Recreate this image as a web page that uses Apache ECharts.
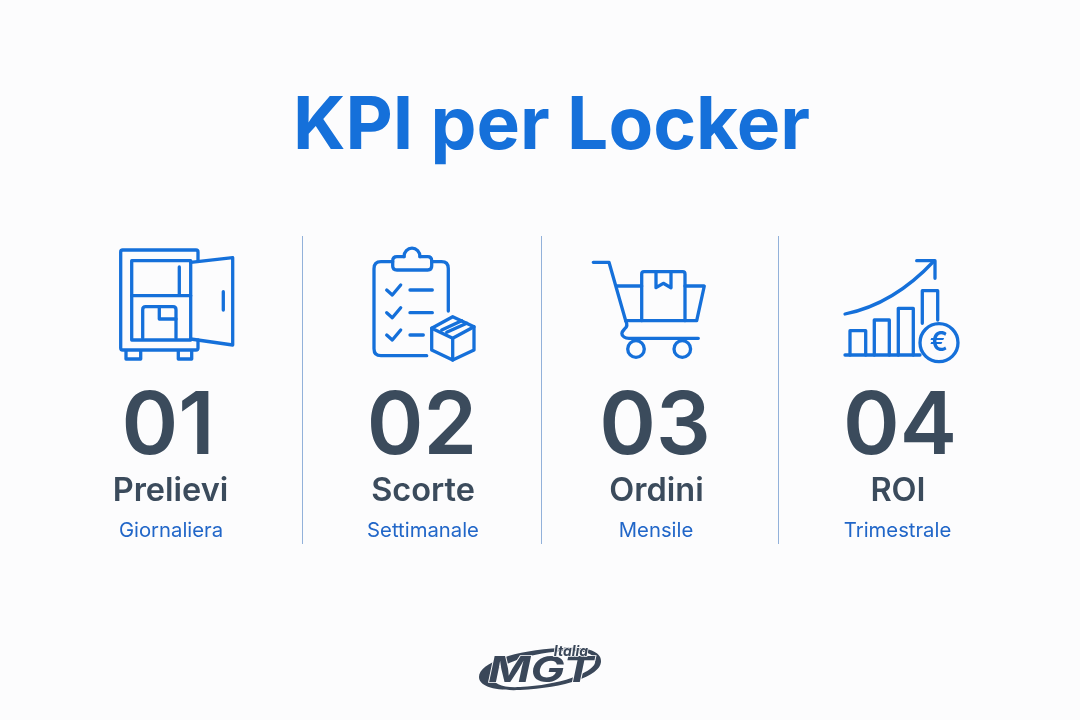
<!DOCTYPE html>
<html>
<head>
<meta charset="utf-8">
<title>KPI per Locker</title>
<script src="https://cdn.jsdelivr.net/npm/echarts@6/dist/echarts.min.js"></script>
<style>
html, body { margin: 0; padding: 0; background: #fcfcfd; }
#main { width: 1080px; height: 720px; }
</style>
</head>
<body>
<div id="main"></div>
<script>
var chartTitle = 'KPI per Locker';
var kpiNumbers = ['01', '02', '03', '04'];
var kpiNames = ['Prelievi', 'Scorte', 'Ordini', 'ROI'];
var kpiPeriods = ['Giornaliera', 'Settimanale', 'Mensile', 'Trimestrale'];

var BLUE = '#1570da';
var DARK = '#3b4b5c';
var numberX = [168, 422, 655, 900];
var nameX = [170.5, 423, 656.5, 898];
var periodX = [171, 423, 656, 897.5];
var dividerX = [302.5, 541.5, 778.5];

// icon outlines, one path string per icon
var iconLocker = [
    'M198 260 V252 Q198 250 196 250 H122.700 Q120.700 250 120.700 252 V348 Q120.700 350 122.700 350 H196 Q198 350 198 348 V340',
    'M131.700 260.700 H190.700 V340 H131.700 Z',
    'M131.700 295.700 H190.700',
    'M179.300 267 V295',
    'M142.700 338 V309.700 Q142.700 306.700 145.700 306.700 H173 Q176 306.700 176 309.700 V338',
    'M159.300 307 V319 H176',
    'M190.700 262.300 L232.700 257.700 V345 L190.700 339',
    'M223.300 291.700 V310',
    'M126 351 V359 H140.700 V351',
    'M178.300 351 V359 H191.700 V351'
];
var iconClipboard = [
    'M448.300 311 V268.500 Q448.300 261.700 441.500 261.700 H431.700',
    'M392.700 261.700 H381 Q374 261.700 374 268.700 V348.700 Q374 355.700 381 355.700 H426.700',
    'M404 256.700 H397 Q392.700 256.700 392.700 261 V266 Q392.700 270 397 270 H427.700 Q431.700 270 431.700 266 V261 Q431.700 256.700 427.700 256.700 H420',
    'M404 256.700 A8 8.500 0 0 1 420 256.700',
    'M386.700 290 L392.300 295 L400.700 285', 'M410 290 H432.300',
    'M386.700 312.700 L392.300 317.700 L400.700 307.700', 'M410 312.700 H432.300',
    'M386.700 335 L392.300 340 L400.700 330', 'M410 335 H423.300',
    'M452.700 316.700 L474 326.700 V350 L452.700 360 L431.700 350 V328.300 Z',
    'M431.700 328.300 L452.700 338.300 L474 326.700',
    'M452.700 338.300 V360',
    'M441.700 330 L461.700 320.700',
    'M446.700 332.300 L466.700 323.300'
];
var iconCart = [
    'M593.300 262.300 H609 L625.700 320.700 H696.700 L704.300 286 H685',
    'M616.700 286 H641.700',
    'M641.700 320.700 V274 Q641.700 271.700 644 271.700 H682.700 Q685 271.700 685 274 V320.700',
    'M656 271.700 V287.700 L663.300 283.300 L671 287.700 V271.700',
    'M625.700 320.700 Q628.500 326 624.500 329 Q619.500 334 624 337 Q626 338.300 629 338.300 H698.300'
];
var iconGrowth = [
    'M845 314 C875 308 905 292 934 261',
    'M916.700 260.700 H935 V278.300',
    'M845 355 H920',
    'M850 355 V330.700 H865.700 V355',
    'M874.300 355 V320 H889.300 V355',
    'M898.300 355 V308.300 H913.300 V355',
    'M922.300 323.300 V290.700 H937.700 V320'
];
// logo shapes
var logoRing = 'M479 677 C479 663 515 650 560 648 C588 646 602 652 601 662 C600 676 565 688 520 690 C494 691 479 686 479 677 Z';
var logoInner = 'M493 676 C495 666 525 654 562 651 C587 650 597 655 595 663 C592 673 560 685 520 687 C503 688 492 684 493 676 Z';

function strokes(list, width) {
    return list.map(function (d) {
        return {
            type: 'path',
            shape: { pathData: d },
            style: { fill: 'none', stroke: BLUE, lineWidth: width || 3.3, lineCap: 'round', lineJoin: 'round' }
        };
    });
}

function label(x, y, text, size, weight, color) {
    return {
        type: 'text',
        x: x,
        y: y,
        style: {
            text: text, fill: color, font: weight + ' ' + size + 'px Inter',
            align: 'center', verticalAlign: 'middle'
        }
    };
}

function circle(cx, cy, r) {
    return {
        type: 'circle',
        shape: { cx: cx, cy: cy, r: r },
        style: { fill: 'none', stroke: BLUE, lineWidth: 3.3 }
    };
}

var elements = [];
dividerX.forEach(function (x) {
    elements.push({
        type: 'line',
        shape: { x1: x, y1: 236, x2: x, y2: 544 },
        style: { stroke: '#92b1da', lineWidth: 1 }
    });
});

elements = elements.concat(strokes(iconLocker), strokes(iconClipboard), strokes(iconCart), strokes(iconGrowth));
elements.push(circle(636, 349, 8.3), circle(682.3, 349, 8.3), circle(939, 342.7, 19));
elements.push(label(939, 343, '€', 27, 600, BLUE));

kpiNumbers.forEach(function (n, i) {
    elements.push(label(numberX[i], 428, n, 86, 600, DARK));
    elements.push(label(nameX[i], 491, kpiNames[i], 32.5, 600, DARK));
    elements.push(label(periodX[i], 531, kpiPeriods[i], 20.3, 400, '#2166c8'));
});

elements.push({ type: 'path', shape: { pathData: logoRing }, style: { fill: '#3a4759' } });
elements.push({ type: 'path', shape: { pathData: logoInner }, style: { fill: '#fcfcfd' } });
elements.push({
    type: 'text', x: 541, y: 671, scaleX: 1.3,
    style: {
        text: 'MGT', fill: '#3a4759', stroke: '#fcfcfd', lineWidth: 1.5,
        font: 'italic 700 35px Inter', align: 'center', verticalAlign: 'middle'
    }
});
elements.push({
    type: 'text', x: 571, y: 652,
    style: {
        text: 'Italia', fill: '#3a4759', stroke: '#fcfcfd', lineWidth: 1.5,
        font: 'italic 700 14px Inter', align: 'center', verticalAlign: 'middle'
    }
});

var chart = echarts.init(document.getElementById('main'));
chart.setOption({
    backgroundColor: '#fcfcfd',
    animation: false,
    title: {
        text: chartTitle,
        left: 288,
        top: 86,
        textStyle: { color: '#1570da', fontFamily: 'Inter', fontWeight: 700, fontSize: 73 }
    },
    series: [{
        type: 'custom',
        coordinateSystem: 'none',
        silent: true,
        data: [0],
        renderItem: function () {
            return { type: 'group', children: elements };
        }
    }]
});
</script>
</body>
</html>
